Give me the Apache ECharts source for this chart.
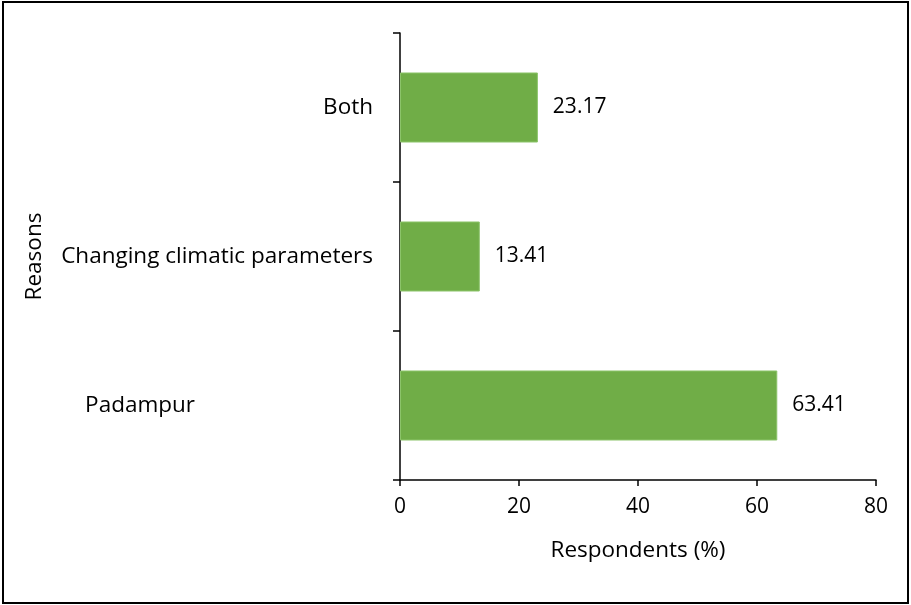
<!DOCTYPE html>
<html lang="en">
<head>
    <meta charset="UTF-8">
    <title>Reasons</title>
    <style>
        html, body { margin: 0; padding: 0; background: #fff; }
        #main { width: 911px; height: 605px; }
    </style>
</head>
<body>
    <div id="main"></div>
    <script src="https://cdn.jsdelivr.net/npm/echarts@6/dist/echarts.min.js"></script>
    <script>
        // data
        var categories = ['Padampur', 'Changing climatic parameters', 'Both'];
        var values = [63.41, 13.41, 23.17];
        var xTicks = [0, 20, 40, 60, 80];

        var fontName = '"Open Sans", sans-serif';
        var fsText = 22.5;   // words
        var fsNum = 21;      // numbers
        var myChart = echarts.init(document.getElementById('main'));

        var option = {
            animation: false,
            textStyle: { fontFamily: fontName },
            graphic: [{
                type: 'rect',
                shape: { x: 3, y: 2, width: 905, height: 601 },
                style: { fill: 'none', stroke: '#000', lineWidth: 2 },
                silent: true
            }],
            grid: { left: 400, right: 35, top: 33, bottom: 125, containLabel: false },
            xAxis: {
                type: 'value',
                min: xTicks[0],
                max: xTicks[xTicks.length - 1],
                interval: 20,
                name: 'Respondents (%)',
                nameLocation: 'middle',
                nameGap: 59,
                nameTextStyle: { color: '#000', fontSize: fsText, fontFamily: fontName, verticalAlign: 'top' },
                axisLine: { show: true, lineStyle: { color: '#000', width: 1.5 } },
                axisTick: { show: true, length: 6, lineStyle: { color: '#000', width: 1.5 } },
                axisLabel: { color: '#000', fontSize: fsNum, margin: 17, fontFamily: fontName },
                splitLine: { show: false }
            },
            yAxis: {
                type: 'category',
                data: categories,
                name: 'Reasons',
                nameLocation: 'middle',
                nameGap: 354,
                nameRotate: 90,
                nameTextStyle: { color: '#000', fontSize: fsText, fontFamily: fontName },
                axisLine: { show: true, lineStyle: { color: '#000', width: 1.5 } },
                axisTick: { show: true, length: 7, lineStyle: { color: '#000', width: 1.5 } },
                axisLabel: {
                    color: '#000', fontSize: fsText, margin: 27, fontFamily: fontName,
                    formatter: function (v) {
                        return v === 'Padampur' ? '{p|' + v + '}' : v;
                    },
                    rich: {
                        p: { color: '#000', fontSize: fsText, fontFamily: fontName, padding: [0, 178, 0, 0] }
                    }
                }
            },
            series: [{
                type: 'bar',
                data: values,
                barWidth: '47%',
                itemStyle: { color: '#70AD47', borderColor: '#8cc46a', borderWidth: 1 },
                label: {
                    show: true,
                    position: 'right',
                    distance: 15,
                    color: '#000',
                    fontSize: fsNum,
                    fontFamily: fontName,
                    formatter: function (p) { return p.value.toFixed(2); }
                }
            }]
        };
        myChart.setOption(option);
    </script>
</body>
</html>
